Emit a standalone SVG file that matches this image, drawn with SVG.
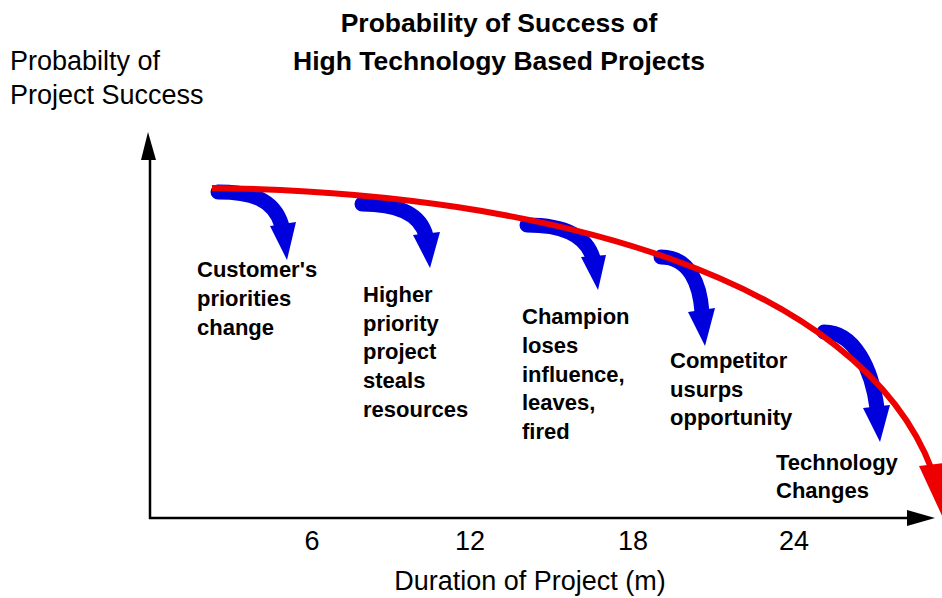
<svg xmlns="http://www.w3.org/2000/svg" width="942" height="598" viewBox="0 0 942 598">
<style>
.t{font-family:"Liberation Sans",Arial,sans-serif;fill:#000}
.title{font-size:26.5px;font-weight:bold}
.ax{font-size:27px}
.lb{font-size:22px;font-weight:bold}
.band{fill:none;stroke:#0000dd;stroke-linecap:round}
.head{fill:#0000dd}
</style>
<rect width="942" height="598" fill="#fff"/>
<g id="title">
<text class="t title" x="499" y="32" text-anchor="middle">Probability of Success of</text>
<text class="t title" x="499" y="70" text-anchor="middle">High Technology Based Projects</text>
</g>
<g id="axes">
<line x1="150" y1="519" x2="150" y2="155" stroke="#000" stroke-width="2.5"/>
<polygon points="141,160 156,160 148,132" fill="#000"/>
<line x1="149" y1="518" x2="910" y2="518" stroke="#000" stroke-width="2.5"/>
<polygon points="907,510 907,526 935,518" fill="#000"/>
<text class="t ax" x="10" y="70">Probabilty of</text>
<text class="t ax" x="10" y="104">Project Success</text>
<text class="t ax" x="312" y="550" text-anchor="middle">6</text>
<text class="t ax" x="470" y="550" text-anchor="middle">12</text>
<text class="t ax" x="633" y="550" text-anchor="middle">18</text>
<text class="t ax" x="794" y="550" text-anchor="middle">24</text>
<text class="t ax" x="530" y="590" text-anchor="middle">Duration of Project (m)</text>
</g>
<g id="connectors">
<g id="arrow1"><path class="band" d="M218,192 C250,192 274,198 282,226" stroke-width="15"/><polygon class="head" points="270,226 296,222 287,260"/></g>
<g id="arrow2"><path class="band" d="M362,204 C395,204 420,212 426,236" stroke-width="15"/><polygon class="head" points="413,235 440,232 430,268"/></g>
<g id="arrow3"><path class="band" d="M527,225 C560,225 585,233 593,258" stroke-width="15"/><polygon class="head" points="581,257 606,255 598,290"/></g>
<g id="arrow4"><path class="band" d="M661,257 C690,257 700,285 702,312" stroke-width="15"/><polygon class="head" points="688,312 715,308 705,346"/></g>
<g id="arrow5"><path class="band" d="M824,332 C855,332 872,370 877,408" stroke-width="15"/><polygon class="head" points="863,408 890,405 880,442"/></g>
<g id="curve"><path d="M212,188 C550,192 860,280 932,470" fill="none" stroke="#ee0000" stroke-width="6"/><polygon points="919,466 952,462 944,520" fill="#ee0000"/></g>
</g>
<g id="labels">
<g id="n1"><text class="t lb" x="197" y="277">Customer's</text><text class="t lb" x="197" y="306">priorities</text><text class="t lb" x="197" y="335">change</text></g>
<g id="n2"><text class="t lb" x="363" y="302">Higher</text><text class="t lb" x="363" y="331">priority</text><text class="t lb" x="363" y="359">project</text><text class="t lb" x="363" y="388">steals</text><text class="t lb" x="363" y="417">resources</text></g>
<g id="n3"><text class="t lb" x="522" y="324">Champion</text><text class="t lb" x="522" y="353">loses</text><text class="t lb" x="522" y="382">influence,</text><text class="t lb" x="522" y="410">leaves,</text><text class="t lb" x="522" y="439">fired</text></g>
<g id="n4"><text class="t lb" x="670" y="368">Competitor</text><text class="t lb" x="670" y="397">usurps</text><text class="t lb" x="670" y="425">opportunity</text></g>
<g id="n5"><text class="t lb" x="776" y="470">Technology</text><text class="t lb" x="776" y="498">Changes</text></g>
</g>
</svg>
